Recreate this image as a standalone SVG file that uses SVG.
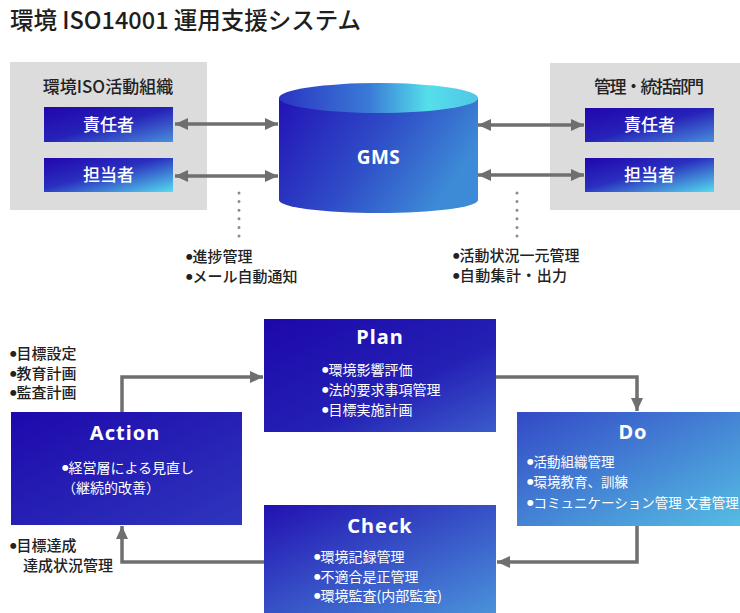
<svg xmlns="http://www.w3.org/2000/svg" width="740" height="613" viewBox="0 0 740 613">
<defs>
<style>
text{font-family:"Noto Sans CJK JP","Noto Sans",sans-serif}
.title{font-size:23.5px;fill:#1e1e1e;font-weight:500}
.grp{font-size:17px;fill:#222;font-weight:500}
.lbl{font-size:17px;fill:#fff;text-anchor:middle;font-weight:500}
.note{font-size:15px;fill:#222;font-weight:500}
.head{font-family:"Noto Sans","Noto Sans CJK JP",sans-serif;font-weight:700;font-size:20px;letter-spacing:1px;fill:#fff;text-anchor:middle}
.item{font-size:14px;fill:#fff}
.itemS{font-size:13.5px;fill:#fff}
.b{font-size:6.5px}
.gbox{fill:#dcdcdc}
.conn{fill:none;stroke:#6f6f6f;stroke-width:3.5}
.conn2{fill:none;stroke:#6f6f6f;stroke-width:3.5}
.dots{fill:none;stroke:#8a8a8a;stroke-width:3;stroke-linecap:round;stroke-dasharray:0 8.6}
</style>
<marker id="ah" markerUnits="userSpaceOnUse" markerWidth="14" markerHeight="14" viewBox="0 0 14 14" refX="13" refY="7" orient="auto-start-reverse">
<path d="M0,1 L13,7 L0,13 Z" fill="#6f6f6f"/>
</marker>
<linearGradient id="gA" x1="0" y1="0" x2="1" y2="1">
<stop offset="0" stop-color="#2106ad"/><stop offset="0.5" stop-color="#2622b8"/><stop offset="1" stop-color="#4a8fdc"/>
</linearGradient>
<linearGradient id="gB" x1="0" y1="0" x2="1" y2="1">
<stop offset="0" stop-color="#2106ad"/><stop offset="0.45" stop-color="#2a2fbf"/><stop offset="1" stop-color="#55dcee"/>
</linearGradient>
<linearGradient id="gPlan" x1="0" y1="0" x2="1" y2="1">
<stop offset="0" stop-color="#1d08aa"/><stop offset="0.6" stop-color="#2420b5"/><stop offset="1" stop-color="#3c5ccb"/>
</linearGradient>
<linearGradient id="gAct" x1="0" y1="0" x2="1" y2="1">
<stop offset="0" stop-color="#1e09ac"/><stop offset="1" stop-color="#2e36bd"/>
</linearGradient>
<linearGradient id="gChk" x1="0" y1="0" x2="1" y2="1">
<stop offset="0" stop-color="#2310b2"/><stop offset="1" stop-color="#4a92da"/>
</linearGradient>
<linearGradient id="gDo" x1="0" y1="0" x2="1" y2="1">
<stop offset="0" stop-color="#3349c6"/><stop offset="1" stop-color="#55bde3"/>
</linearGradient>
<linearGradient id="gCylB" x1="0" y1="0" x2="1" y2="0.4">
<stop offset="0" stop-color="#2212b6"/><stop offset="0.55" stop-color="#2f4cc7"/><stop offset="1" stop-color="#3d8ad6"/>
</linearGradient>
<linearGradient id="gCylT" x1="0" y1="0" x2="1" y2="0">
<stop offset="0" stop-color="#2a34c2"/><stop offset="0.45" stop-color="#3a7ad6"/><stop offset="0.75" stop-color="#55dfea"/><stop offset="1" stop-color="#4fc6e6"/>
</linearGradient>
</defs>
<rect width="740" height="613" fill="#fff"/>

<text class="title" x="10" y="29">環境 ISO14001 運用支援システム</text>

<g id="org-left">
<rect class="gbox" x="10" y="62" width="197" height="148"/>
<text class="grp" x="108" y="93" text-anchor="middle">環境ISO活動組織</text>
</g>
<g id="left-sekinin">
<rect x="44" y="107" width="129" height="35" fill="url(#gA)"/>
<text class="lbl" x="108.5" y="131">責任者</text>
</g>
<g id="left-tanto">
<rect x="44" y="158" width="129" height="34" fill="url(#gB)"/>
<text class="lbl" x="108.5" y="181">担当者</text>
</g>

<g id="org-right">
<rect class="gbox" x="550" y="63" width="190" height="147"/>
<text class="grp" x="594" y="93" textLength="110" lengthAdjust="spacing">管理・統括部門</text>
</g>
<g id="right-sekinin">
<rect x="585" y="108" width="129" height="34" fill="url(#gA)"/>
<text class="lbl" x="649.5" y="131">責任者</text>
</g>
<g id="right-tanto">
<rect x="585" y="158" width="129" height="34" fill="url(#gB)"/>
<text class="lbl" x="649.5" y="181">担当者</text>
</g>

<g id="gms">
<path d="M279,98 L279,200 A99.5,13 0 0 0 478,200 L478,98 Z" fill="url(#gCylB)"/>
<ellipse cx="378.5" cy="98" rx="99.5" ry="15" fill="url(#gCylT)"/>
<text class="head" x="378.5" y="164" style="font-size:19px;letter-spacing:0.5px">GMS</text>
</g>

<g id="note-left">
<text class="note" x="186" y="262"><tspan class="b" dy="-3.5">●</tspan><tspan dy="3.5">進捗管理</tspan></text>
<text class="note" x="186" y="282"><tspan class="b" dy="-3.5">●</tspan><tspan dy="3.5">メール自動通知</tspan></text>
</g>
<g id="note-right">
<text class="note" x="453" y="261"><tspan class="b" dy="-3.5">●</tspan><tspan dy="3.5">活動状況一元管理</tspan></text>
<text class="note" x="453" y="281" textLength="114" lengthAdjust="spacing"><tspan class="b" dy="-3.5">●</tspan><tspan dy="3.5">自動集計・出力</tspan></text>
</g>

<g id="plan">
<rect x="264" y="319" width="232" height="113" fill="url(#gPlan)"/>
<text class="head" x="380" y="344">Plan</text>
<text class="item" x="322" y="375"><tspan class="b" dy="-3.5">●</tspan><tspan dy="3.5">環境影響評価</tspan></text>
<text class="item" x="322" y="395"><tspan class="b" dy="-3.5">●</tspan><tspan dy="3.5">法的要求事項管理</tspan></text>
<text class="item" x="322" y="415"><tspan class="b" dy="-3.5">●</tspan><tspan dy="3.5">目標実施計画</tspan></text>
</g>

<g id="do">
<rect x="517" y="412" width="223" height="114" fill="url(#gDo)"/>
<text class="head" x="633" y="439">Do</text>
<text class="itemS" x="527" y="467"><tspan class="b" dy="-3.5">●</tspan><tspan dy="3.5">活動組織管理</tspan></text>
<text class="itemS" x="527" y="487"><tspan class="b" dy="-3.5">●</tspan><tspan dy="3.5">環境教育、訓練</tspan></text>
<text class="itemS" x="527" y="508"><tspan class="b" dy="-3.5">●</tspan><tspan dy="3.5">コミュニケーション管理 文書管理</tspan></text>
</g>

<g id="check">
<rect x="264" y="505" width="232" height="108" fill="url(#gChk)"/>
<text class="head" x="380" y="533">Check</text>
<text class="item" x="314" y="562"><tspan class="b" dy="-3.5">●</tspan><tspan dy="3.5">環境記録管理</tspan></text>
<text class="item" x="314" y="582"><tspan class="b" dy="-3.5">●</tspan><tspan dy="3.5">不適合是正管理</tspan></text>
<text class="item" x="314" y="601"><tspan class="b" dy="-3.5">●</tspan><tspan dy="3.5">環境監査(内部監査)</tspan></text>
</g>

<g id="action">
<rect x="11" y="412" width="231" height="113" fill="url(#gAct)"/>
<text class="head" x="125" y="440">Action</text>
<text class="item" x="62" y="473"><tspan class="b" dy="-3.5">●</tspan><tspan dy="3.5">経営層による見直し</tspan></text>
<text class="item" x="62" y="493">（継続的改善）</text>
</g>

<g id="note-action-top">
<text class="note" x="10" y="359"><tspan class="b" dy="-3.5">●</tspan><tspan dy="3.5">目標設定</tspan></text>
<text class="note" x="10" y="379"><tspan class="b" dy="-3.5">●</tspan><tspan dy="3.5">教育計画</tspan></text>
<text class="note" x="10" y="398"><tspan class="b" dy="-3.5">●</tspan><tspan dy="3.5">監査計画</tspan></text>
</g>
<g id="note-action-bottom">
<text class="note" x="10" y="551"><tspan class="b" dy="-3.5">●</tspan><tspan dy="3.5">目標達成</tspan></text>
<text class="note" x="23" y="571">達成状況管理</text>
</g>

<g id="connectors">
<line class="conn" x1="175" y1="124" x2="278" y2="124" marker-start="url(#ah)" marker-end="url(#ah)"/>
<line class="conn" x1="175" y1="176" x2="278" y2="176" marker-start="url(#ah)" marker-end="url(#ah)"/>
<line class="conn" x1="478" y1="125" x2="584" y2="125" marker-start="url(#ah)" marker-end="url(#ah)"/>
<line class="conn" x1="478" y1="175" x2="584" y2="175" marker-start="url(#ah)" marker-end="url(#ah)"/>
<line class="dots" x1="239" y1="193" x2="239" y2="237"/>
<line class="dots" x1="517" y1="193" x2="517" y2="237"/>
<polyline class="conn2" points="122,412 122,377 263,377" marker-end="url(#ah)"/>
<polyline class="conn2" points="496,377 637,377 637,411" marker-end="url(#ah)"/>
<polyline class="conn2" points="637,526 637,562 497,562" marker-end="url(#ah)"/>
<polyline class="conn2" points="264,562 122,562 122,526" marker-end="url(#ah)"/>
</g>
</svg>
